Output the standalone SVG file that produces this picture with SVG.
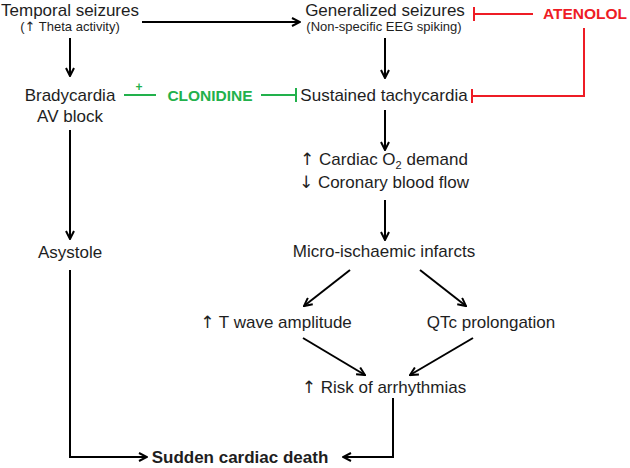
<svg xmlns="http://www.w3.org/2000/svg" width="630" height="468" viewBox="0 0 630 468">
<style>
text{font-family:"Liberation Sans",Arial,sans-serif;fill:#1e1e1e;text-anchor:middle}
.n{font-size:17px}
.s{font-size:13px}
.b{font-weight:bold}
.cap{font-size:15.5px}
.ar{font-family:"DejaVu Sans",sans-serif}
.red{fill:#ee1c25}
.grn{fill:#22b14c}
.k{stroke:#000;stroke-width:2;fill:none}
.r{stroke:#ee1c25;stroke-width:2;fill:none}
.g{stroke:#22b14c;stroke-width:2;fill:none}
</style>
<defs>
<marker id="ah" viewBox="0 0 10 10" refX="9" refY="5" markerWidth="10" markerHeight="10" markerUnits="userSpaceOnUse" orient="auto">
<path d="M1,1 L9,5 L1,9" fill="none" stroke="#000" stroke-width="2"/>
</marker>
</defs>
<g id="connectors">
<path class="k" d="M142,22 H300" marker-end="url(#ah)"/>
<path class="k" d="M70,38 V76" marker-end="url(#ah)"/>
<path class="k" d="M385,38 V78" marker-end="url(#ah)"/>
<path class="k" d="M70,130 V239" marker-end="url(#ah)"/>
<path class="k" d="M385,110 V150" marker-end="url(#ah)"/>
<path class="k" d="M385,200 V240" marker-end="url(#ah)"/>
<path class="k" d="M70,270 V457 H147" marker-end="url(#ah)"/>
<path class="k" d="M350,270 L304,306" marker-end="url(#ah)"/>
<path class="k" d="M420,270 L466,306" marker-end="url(#ah)"/>
<path class="k" d="M303,338 L365,375" marker-end="url(#ah)"/>
<path class="k" d="M473,338 L410,375" marker-end="url(#ah)"/>
<path class="k" d="M393,398 V457 H343" marker-end="url(#ah)"/>
<path class="r" d="M533,14 H474 M474,7 V21"/>
<path class="r" d="M584,28 V96 H472 M472,89 V103"/>
<path class="g" d="M124,95 H156"/>
<path class="g" d="M261,95 H296 M296,88 V102"/>
</g>
<g id="temporal"><text class="n" x="70" y="16">Temporal seizures</text><text class="s" x="70" y="31">(<tspan class="ar">↑</tspan> Theta activity)</text></g>
<g id="generalized"><text class="n" x="385" y="16">Generalized seizures</text><text class="s" x="384" y="31">(Non-specific EEG spiking)</text></g>
<g id="atenolol"><text class="cap b red" x="585" y="19">ATENOLOL</text></g>
<g id="bradycardia"><text class="n" x="70" y="101">Bradycardia</text><text class="n" x="70" y="122">AV block</text></g>
<g id="clonidine"><text class="b grn" x="139" y="91" style="font-size:12px">+</text><text class="cap b grn" x="210" y="101">CLONIDINE</text></g>
<g id="tachycardia"><text class="n" x="384" y="101">Sustained tachycardia</text></g>
<g id="demand"><text class="n" x="384" y="165"><tspan class="ar">↑</tspan> Cardiac O<tspan dy="4" style="font-size:11px">2</tspan><tspan dy="-4"> demand</tspan></text><text class="n" x="384" y="188"><tspan class="ar">↓</tspan> Coronary blood flow</text></g>
<g id="infarcts"><text class="n" x="384" y="257">Micro-ischaemic infarcts</text></g>
<g id="asystole"><text class="n" x="70" y="258">Asystole</text></g>
<g id="twave"><text class="n" x="276" y="328"><tspan class="ar">↑</tspan> T wave amplitude</text></g>
<g id="qtc"><text class="n" x="491" y="328">QTc prolongation</text></g>
<g id="risk"><text class="n" x="384" y="393"><tspan class="ar">↑</tspan> Risk of arrhythmias</text></g>
<g id="death"><text class="n b" x="240" y="463">Sudden cardiac death</text></g>
</svg>
